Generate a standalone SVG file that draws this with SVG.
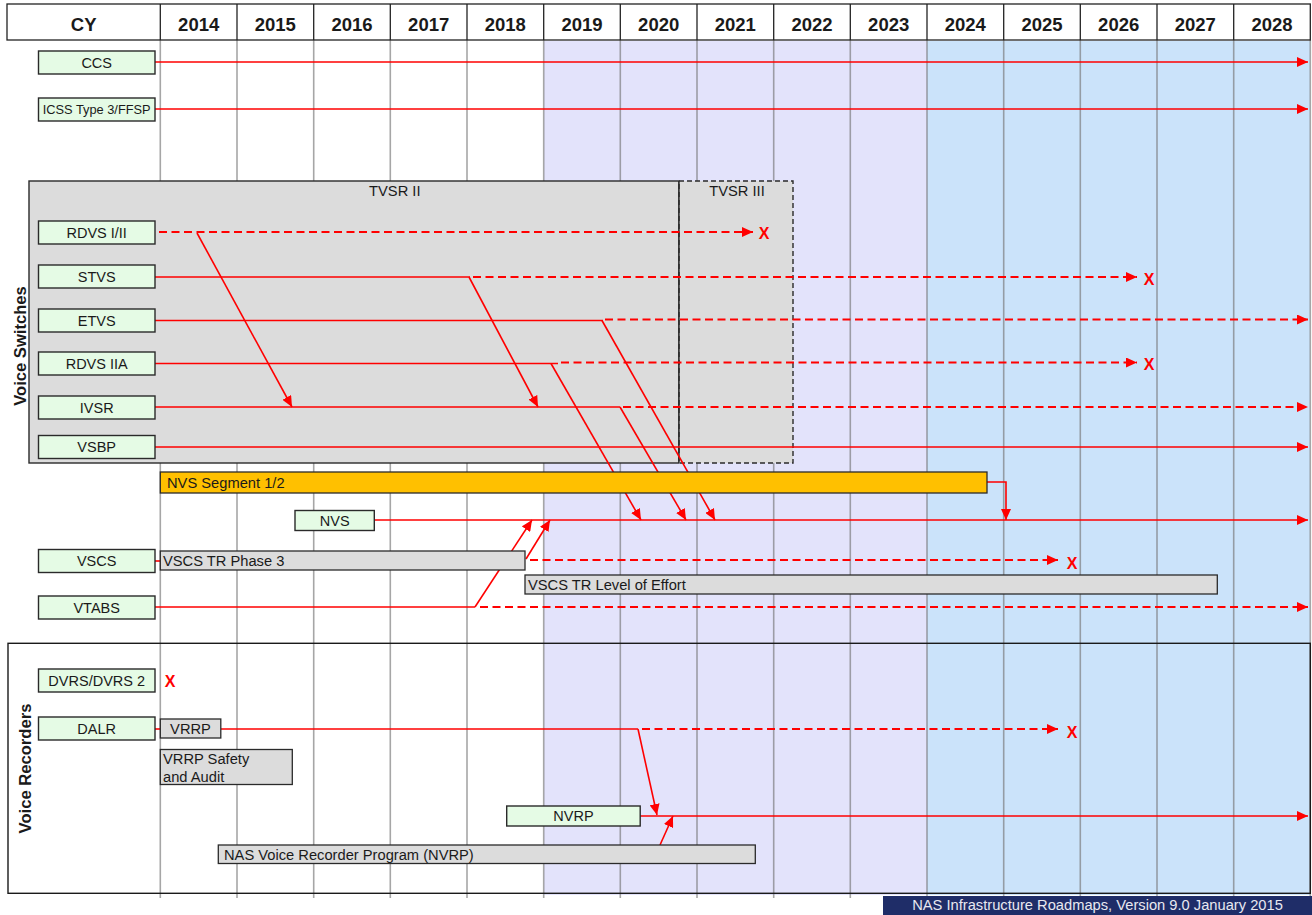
<svg xmlns="http://www.w3.org/2000/svg" width="1312" height="915" viewBox="0 0 1312 915">
<defs>
<marker id="ah" markerWidth="11" markerHeight="10" refX="11" refY="5" orient="auto" markerUnits="userSpaceOnUse"><path d="M0,0 L11,5 L0,10 z" fill="#ff0000"/></marker>
<style>
text{font-family:"Liberation Sans",Arial,sans-serif;fill:#1a1a1a}
.hd{font-size:18.5px;font-weight:bold;text-anchor:middle}
.gr{stroke:#777;stroke-opacity:0.65;stroke-width:1.6}
.hl{stroke:#222;stroke-width:1.3}
.nb rect{fill:#e5fbe5;stroke:#2a2a2a;stroke-width:1.4}
.nb text{font-size:14.5px;text-anchor:middle}
.bar rect{fill:#dcdcdc;stroke:#2a2a2a;stroke-width:1.3}
.bar text{font-size:14.7px}
.r{stroke:#ff0000;stroke-width:1.6;fill:none}
.d{stroke-dasharray:8 4.5;stroke-width:1.9}
.a{marker-end:url(#ah)}
.x{font-size:16px;font-weight:bold;fill:#ff0000;text-anchor:middle}
.sec{font-size:16.6px;font-weight:bold;text-anchor:middle}
</style>
</defs>
<rect x="0" y="0" width="1312" height="915" fill="#ffffff"/>
<g id="bands">
<rect x="544" y="41" width="383" height="854" fill="#e3e3fb"/>
<rect x="927" y="41" width="383" height="854" fill="#cbe3fa"/>
</g>
<g id="grid">
<line class="gr" x1="160.3" y1="40" x2="160.3" y2="898"/>
<line class="gr" x1="237" y1="40" x2="237" y2="898"/>
<line class="gr" x1="313.7" y1="40" x2="313.7" y2="898"/>
<line class="gr" x1="390.3" y1="40" x2="390.3" y2="898"/>
<line class="gr" x1="467" y1="40" x2="467" y2="898"/>
<line class="gr" x1="543.7" y1="40" x2="543.7" y2="898"/>
<line class="gr" x1="620.3" y1="40" x2="620.3" y2="898"/>
<line class="gr" x1="697" y1="40" x2="697" y2="898"/>
<line class="gr" x1="773.7" y1="40" x2="773.7" y2="898"/>
<line class="gr" x1="850.3" y1="40" x2="850.3" y2="898"/>
<line class="gr" x1="927" y1="40" x2="927" y2="898"/>
<line class="gr" x1="1003.7" y1="40" x2="1003.7" y2="898"/>
<line class="gr" x1="1080.3" y1="40" x2="1080.3" y2="898"/>
<line class="gr" x1="1157" y1="40" x2="1157" y2="898"/>
<line class="gr" x1="1233.7" y1="40" x2="1233.7" y2="898"/>
<line class="gr" x1="1310.3" y1="40" x2="1310.3" y2="898"/>
</g>
<g id="header">
<rect x="7" y="4" width="1303.3" height="36" fill="#ffffff" stroke="#222" stroke-width="1.3"/>
<line class="hl" x1="160.3" y1="4" x2="160.3" y2="40"/>
<line class="hl" x1="237" y1="4" x2="237" y2="40"/>
<line class="hl" x1="313.7" y1="4" x2="313.7" y2="40"/>
<line class="hl" x1="390.3" y1="4" x2="390.3" y2="40"/>
<line class="hl" x1="467" y1="4" x2="467" y2="40"/>
<line class="hl" x1="543.7" y1="4" x2="543.7" y2="40"/>
<line class="hl" x1="620.3" y1="4" x2="620.3" y2="40"/>
<line class="hl" x1="697" y1="4" x2="697" y2="40"/>
<line class="hl" x1="773.7" y1="4" x2="773.7" y2="40"/>
<line class="hl" x1="850.3" y1="4" x2="850.3" y2="40"/>
<line class="hl" x1="927" y1="4" x2="927" y2="40"/>
<line class="hl" x1="1003.7" y1="4" x2="1003.7" y2="40"/>
<line class="hl" x1="1080.3" y1="4" x2="1080.3" y2="40"/>
<line class="hl" x1="1157" y1="4" x2="1157" y2="40"/>
<line class="hl" x1="1233.7" y1="4" x2="1233.7" y2="40"/>
<text class="hd" x="83.7" y="30.5">CY</text>
<text class="hd" x="198.7" y="30.5">2014</text>
<text class="hd" x="275.3" y="30.5">2015</text>
<text class="hd" x="352" y="30.5">2016</text>
<text class="hd" x="428.7" y="30.5">2017</text>
<text class="hd" x="505.3" y="30.5">2018</text>
<text class="hd" x="582" y="30.5">2019</text>
<text class="hd" x="658.7" y="30.5">2020</text>
<text class="hd" x="735.3" y="30.5">2021</text>
<text class="hd" x="812" y="30.5">2022</text>
<text class="hd" x="888.7" y="30.5">2023</text>
<text class="hd" x="965.3" y="30.5">2024</text>
<text class="hd" x="1042" y="30.5">2025</text>
<text class="hd" x="1118.7" y="30.5">2026</text>
<text class="hd" x="1195.3" y="30.5">2027</text>
<text class="hd" x="1272" y="30.5">2028</text>
</g>
<g id="tvsr2">
<rect x="29" y="181" width="650" height="282" fill="#dcdcdc" stroke="#2a2a2a" stroke-width="1.4"/>
<text x="394.8" y="196" font-size="14.7" text-anchor="middle">TVSR II</text>
</g>
<g id="tvsr3">
<rect x="679" y="181" width="114" height="282" fill="#dcdcdc" stroke="#2a2a2a" stroke-width="1.4" stroke-dasharray="5 3"/>
<line x1="679" y1="181" x2="679" y2="463" stroke="#2a2a2a" stroke-width="1.4"/>
<text x="737" y="196" font-size="14.7" text-anchor="middle">TVSR III</text>
</g>
<g id="voice-switches-label">
<text class="sec" transform="translate(25.5,346) rotate(-90)">Voice Switches</text>
</g>
<g id="voice-recorders">
<rect x="8" y="643.3" width="1302.3" height="250" fill="none" stroke="#1a1a1a" stroke-width="1.4"/>
<text class="sec" transform="translate(31,768.5) rotate(-90)">Voice Recorders</text>
</g>
<g id="connectors">
<line class="r a" x1="155" y1="62" x2="1308" y2="62"/>
<line class="r a" x1="155" y1="109" x2="1308" y2="109"/>
<line class="r d a" x1="159" y1="232" x2="753" y2="232"/>
<line class="r a" x1="197" y1="233" x2="292" y2="407"/>
<line class="r" x1="155" y1="277" x2="470" y2="277"/>
<line class="r d a" x1="473" y1="277" x2="1137" y2="277"/>
<line class="r a" x1="469" y1="277" x2="538" y2="407"/>
<line class="r" x1="155" y1="320.5" x2="603" y2="320.5"/>
<line class="r d a" x1="605" y1="319.5" x2="1308" y2="319.5"/>
<line class="r a" x1="602" y1="320.5" x2="715" y2="520"/>
<line class="r" x1="155" y1="363.5" x2="558" y2="363.5"/>
<line class="r d a" x1="561" y1="362.5" x2="1137" y2="362.5"/>
<line class="r a" x1="551" y1="363.5" x2="641" y2="520"/>
<line class="r" x1="155" y1="407" x2="620" y2="407"/>
<line class="r d a" x1="623" y1="407" x2="1308" y2="407"/>
<line class="r a" x1="620" y1="407" x2="686" y2="520"/>
<line class="r a" x1="155" y1="447" x2="1308" y2="447"/>
<line class="r a" x1="374" y1="520" x2="1308" y2="520"/>
<polyline class="r a" points="987,482 1006,482 1006,520"/>
<line class="r" x1="155" y1="561" x2="160" y2="561"/>
<line class="r d a" x1="530" y1="560" x2="1058" y2="560"/>
<line class="r a" x1="526" y1="559" x2="550" y2="520"/>
<line class="r" x1="155" y1="607" x2="475" y2="607"/>
<line class="r d a" x1="480" y1="607" x2="1308" y2="607"/>
<line class="r a" x1="475" y1="607" x2="532" y2="520"/>
<line class="r" x1="155" y1="729" x2="160" y2="729"/>
<line class="r" x1="221" y1="729" x2="638" y2="729"/>
<line class="r d a" x1="642" y1="729" x2="1058" y2="729"/>
<line class="r a" x1="638" y1="729" x2="657" y2="815"/>
<line class="r a" x1="640" y1="816" x2="1308" y2="816"/>
<line class="r a" x1="660" y1="845" x2="673" y2="816"/>
<text class="x" x="764" y="238.5">X</text>
<text class="x" x="1149" y="285">X</text>
<text class="x" x="1149" y="370">X</text>
<text class="x" x="1072" y="569">X</text>
<text class="x" x="1072" y="737.5">X</text>
<text class="x" x="170" y="687">X</text>
</g>
<g id="ccs" class="nb"><rect x="38.5" y="51" width="116.5" height="23"/><text x="96.7" y="67.5">CCS</text></g>
<g id="icss" class="nb"><rect x="38.5" y="98" width="116.5" height="23"/><text x="96.7" y="114.3" style="font-size:12.8px">ICSS Type 3/FFSP</text></g>
<g id="rdvs12" class="nb"><rect x="38.5" y="221" width="116.5" height="23"/><text x="96.7" y="237.5">RDVS I/II</text></g>
<g id="stvs" class="nb"><rect x="38.5" y="265" width="116.5" height="23"/><text x="96.7" y="281.5">STVS</text></g>
<g id="etvs" class="nb"><rect x="38.5" y="309" width="116.5" height="23"/><text x="96.7" y="325.5">ETVS</text></g>
<g id="rdvs2a" class="nb"><rect x="38.5" y="352" width="116.5" height="23"/><text x="96.7" y="368.5">RDVS IIA</text></g>
<g id="ivsr" class="nb"><rect x="38.5" y="396" width="116.5" height="23"/><text x="96.7" y="412.5">IVSR</text></g>
<g id="vsbp" class="nb"><rect x="38.5" y="435.5" width="116.5" height="23"/><text x="96.7" y="452">VSBP</text></g>
<g id="nvs-seg" class="bar"><rect x="160.3" y="472" width="826.7" height="21" style="fill:#ffc000"/><text x="167" y="487.5">NVS Segment 1/2</text></g>
<g id="nvs" class="nb"><rect x="295" y="510.5" width="79.3" height="20"/><text x="334.7" y="525.8">NVS</text></g>
<g id="vscs" class="nb"><rect x="38.5" y="549.5" width="116.5" height="23"/><text x="96.7" y="566">VSCS</text></g>
<g id="vscs-tr3" class="bar"><rect x="160.3" y="551" width="364.7" height="19"/><text x="163" y="565.5">VSCS TR Phase 3</text></g>
<g id="vscs-loe" class="bar"><rect x="525" y="575" width="692.3" height="19"/><text x="528" y="589.5">VSCS TR Level of Effort</text></g>
<g id="vtabs" class="nb"><rect x="38.5" y="596" width="116.5" height="23"/><text x="96.7" y="612.5">VTABS</text></g>
<g id="dvrs" class="nb"><rect x="38.5" y="669" width="116.5" height="23"/><text x="96.7" y="685.5">DVRS/DVRS 2</text></g>
<g id="dalr" class="nb"><rect x="38.5" y="717" width="116.5" height="23"/><text x="96.7" y="733.5">DALR</text></g>
<g id="vrrp" class="bar"><rect x="160.3" y="719" width="60.5" height="19"/><text x="190.5" y="733.5" text-anchor="middle">VRRP</text></g>
<g id="vrrp-sa" class="bar"><rect x="160.3" y="749.5" width="132" height="35"/><text x="163" y="764">VRRP Safety</text><text x="163" y="782">and Audit</text></g>
<g id="nvrp" class="nb"><rect x="506.7" y="806" width="133.5" height="20"/><text x="573.5" y="821">NVRP</text></g>
<g id="nvrp-prog" class="bar"><rect x="218.3" y="845" width="537" height="18.5"/><text x="224" y="859.5">NAS Voice Recorder Program (NVRP)</text></g>
<g id="footer">
<rect x="883" y="896" width="429" height="19" fill="#1f2d68"/>
<text x="1097.5" y="910" font-size="14.7" text-anchor="middle" style="fill:#e8e8f0">NAS Infrastructure Roadmaps, Version 9.0 January 2015</text>
</g>
</svg>
